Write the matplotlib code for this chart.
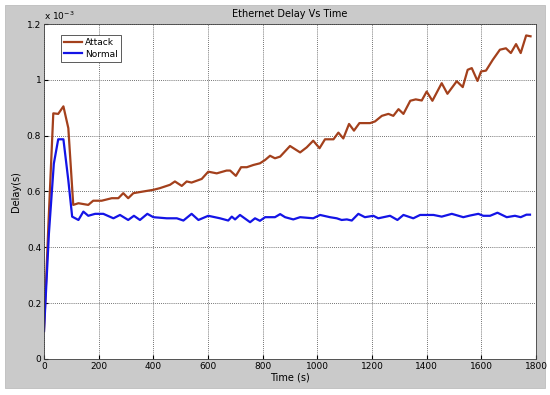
import numpy as np
import matplotlib
matplotlib.use("Agg")
import matplotlib.pyplot as plt
from matplotlib.patches import Rectangle
from matplotlib.ticker import FuncFormatter, MultipleLocator

# delay values, in units of 1e-3 s
attack_t = [0, 17, 34, 52, 71, 89, 107, 126, 162, 180, 211, 248, 272, 290, 308, 327,
            363, 400, 424, 461, 479, 504, 522, 540, 577, 601, 632, 668, 681, 702, 721,
            742, 766, 790, 809, 827, 845, 864, 900, 937, 961, 985, 1008, 1028, 1059,
            1077, 1095, 1116, 1134, 1154, 1193, 1211, 1236, 1260, 1278, 1297, 1315,
            1340, 1360, 1382, 1400, 1421, 1455, 1476, 1510, 1532, 1550, 1565, 1586,
            1599, 1617, 1642, 1668, 1690, 1708, 1727, 1744, 1764, 1780]
attack_d = [0.10, 0.50, 0.88, 0.878, 0.905, 0.827, 0.552, 0.558, 0.552, 0.567, 0.567,
            0.576, 0.576, 0.594, 0.576, 0.594, 0.600, 0.606, 0.612, 0.624, 0.636, 0.620,
            0.636, 0.632, 0.645, 0.671, 0.665, 0.675, 0.675, 0.656, 0.687, 0.687, 0.695,
            0.701, 0.713, 0.728, 0.719, 0.725, 0.763, 0.740, 0.758, 0.782, 0.755, 0.787,
            0.787, 0.811, 0.790, 0.842, 0.818, 0.845, 0.845, 0.851, 0.871, 0.878, 0.871,
            0.895, 0.878, 0.925, 0.930, 0.926, 0.958, 0.925, 0.988, 0.950, 0.995, 0.974,
            1.036, 1.042, 0.996, 1.030, 1.033, 1.072, 1.108, 1.113, 1.096, 1.128, 1.096,
            1.159, 1.156]

normal_t = [0, 18, 36, 52, 71, 89, 103, 126, 144, 162, 187, 217, 254, 278, 308, 329,
            351, 378, 400, 449, 486, 510, 540, 565, 601, 644, 674, 687, 699, 717, 754,
            772, 790, 809, 845, 864, 882, 912, 937, 985, 1010, 1046, 1071, 1089, 1108,
            1126, 1150, 1174, 1205, 1223, 1266, 1293, 1315, 1351, 1376, 1425, 1455,
            1492, 1534, 1559, 1589, 1607, 1632, 1659, 1693, 1723, 1744, 1765, 1778]
normal_d = [0.10, 0.45, 0.70, 0.787, 0.787, 0.64, 0.510, 0.498, 0.528, 0.513, 0.520,
            0.520, 0.504, 0.516, 0.498, 0.513, 0.498, 0.520, 0.508, 0.504, 0.504, 0.496,
            0.520, 0.498, 0.513, 0.504, 0.496, 0.510, 0.500, 0.516, 0.490, 0.504, 0.495,
            0.508, 0.508, 0.519, 0.508, 0.500, 0.508, 0.504, 0.516, 0.508, 0.504, 0.498,
            0.500, 0.496, 0.520, 0.508, 0.513, 0.504, 0.513, 0.498, 0.516, 0.504, 0.516,
            0.516, 0.510, 0.520, 0.508, 0.514, 0.520, 0.513, 0.513, 0.524, 0.508, 0.513,
            0.508, 0.517, 0.517]

attack_d = np.array(attack_d) * 1e-3
normal_d = np.array(normal_d) * 1e-3

fig = plt.figure(figsize=(5.5, 3.95), dpi=100)
fig.patch.set_facecolor("white")
fig.patches.append(Rectangle((5 / 550, 7 / 395), 540 / 550, 383 / 395,
                             transform=fig.transFigure, facecolor="#cacaca",
                             edgecolor="#bdbdbd", lw=0.6, zorder=-10))

ax = fig.add_axes([44 / 550, 36 / 395, 492 / 550, 335 / 395])
ax.plot(attack_t, attack_d, color="#a3401c", lw=1.6, label="Attack")
ax.plot(normal_t, normal_d, color="#1414e6", lw=1.6, label="Normal")

ax.set_xlim(0, 1800)
ax.set_ylim(0, 1.2e-3)
ax.xaxis.set_major_locator(MultipleLocator(200))
ax.yaxis.set_major_locator(MultipleLocator(0.2e-3))
ax.yaxis.set_major_formatter(FuncFormatter(lambda v, p: f"{v * 1e3:g}"))
ax.tick_params(labelsize=6.5, direction="in", length=3, pad=2)
ax.grid(True, color="#444444", ls=(0, (1, 1.5)), lw=0.6)
for s in ax.spines.values():
    s.set_color("#404040")
    s.set_linewidth(0.6)

ax.text(0.0, 1.005, "x 10$^{-3}$", transform=ax.transAxes, fontsize=6.5,
        ha="left", va="bottom")
ax.set_title("Ethernet Delay Vs Time", fontsize=7, pad=5)
ax.set_xlabel("Time (s)", fontsize=7, labelpad=1)
ax.set_ylabel("Delay(s)", fontsize=7, labelpad=4)

leg = ax.legend(loc="upper left", bbox_to_anchor=(0.035, 0.968), fontsize=6.5,
                fancybox=False, framealpha=1, edgecolor="#404040",
                handlelength=2.0, borderpad=0.35, labelspacing=0.3,
                handletextpad=0.3, borderaxespad=0.0)
leg.get_frame().set_linewidth(0.6)

fig.savefig("out.png", dpi=100)
